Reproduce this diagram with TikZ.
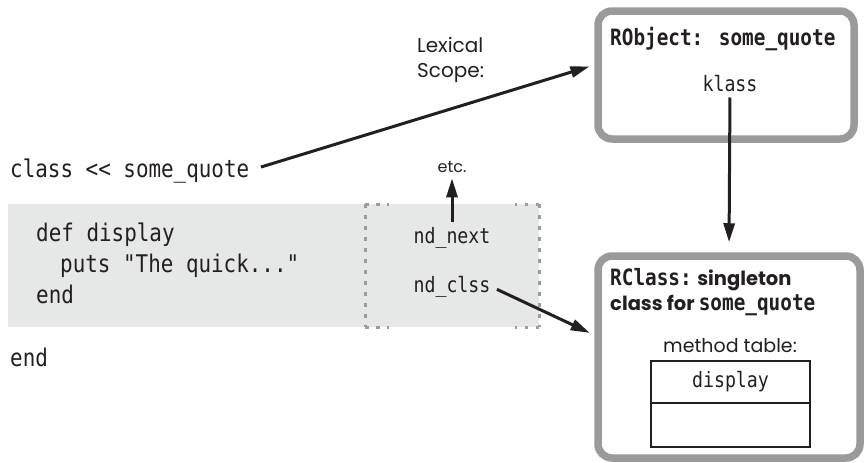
\documentclass[tikz,border=0pt]{standalone}
\usepackage{fontspec}
\setsansfont{Poppins}
\newfontfamily\codefont[FakeStretch=0.86]{DejaVu Sans Mono}
\usetikzlibrary{arrows.meta,positioning}
\definecolor{inkx}{HTML}{231F20}
\definecolor{framegray}{HTML}{999A9C}
\definecolor{codebg}{HTML}{E6E7E7}
\definecolor{dotgray}{HTML}{9C9C9C}
\tikzset{
  ar/.style={-{Triangle[length=19pt,width=11pt]},line width=3pt,inkx},
  code/.style={font={\codefont\fontsize{24.3}{29}\selectfont},text=inkx,inner sep=0pt,anchor=base west},
  lbl/.style={font={\codefont\fontsize{21.2}{25}\selectfont},text=inkx,inner sep=0pt,anchor=base},
  ttl/.style={font={\sffamily\bfseries\fontsize{19.5}{22}\selectfont},text=inkx,inner sep=0pt,anchor=base west},
  sans/.style={font={\sffamily\fontsize{19}{25}\selectfont},text=inkx,inner sep=0pt},
  frame/.style={draw=framegray,line width=7.5pt,rounded corners=14pt,fill=white},
  slot/.style={draw=inkx,line width=2.5pt,outer sep=0pt,minimum width=159pt,inner sep=0pt},
  dotln/.style={dotgray,line width=3pt,dash pattern=on 3.5pt off 7.5pt}
}
\newcommand{\cbf}[1]{{\codefont\fontsize{22.5}{22}\selectfont #1}}
\begin{document}
\begin{tikzpicture}[x=1pt,y=-1pt]
\useasboundingbox (0,0) rectangle (865,463);
\fill[codebg] (8,204) rectangle (539,327);
\draw[dotln] (365,204) -- (365,327);
\draw[dotln] (539,204) -- (539,327);
\foreach \yy in {204,327}{
  \draw[dotln] (365,\yy) -- (389,\yy);
  \draw[dotln] (539,\yy) -- (515,\yy);
}
\node[code] (cls) at (10,177) {class << some\_quote};
\node[code] (def) at (36,241) {def display};
\node[code] (puts) at (60,272) {puts "The quick..."};
\node[code] (defend) at (36,303) {end};
\node[code] (clsend) at (10,366) {end};
\node[sans,font={\sffamily\fontsize{20}{25}\selectfont},anchor=base west] (lex) at (417,52) {Lexical};
\node[sans,font={\sffamily\fontsize{20}{25}\selectfont},anchor=base west] (scope) at (417,77) {Scope:};
\node[lbl] (ndnext) at (452,243) {nd\_next};
\node[lbl] (ndclss) at (452,292) {nd\_clss};
\node[sans,font={\sffamily\fontsize{16}{20}\selectfont},anchor=base] (etc) at (452,172) {etc.};
\node[frame,minimum width=256pt,minimum height=128pt] (robj) at (726,75) {};
\node[ttl] (robjttl) at (610,45) {\cbf{RObject: some\_quote}};
\node[lbl] (klass) at (730,91) {klass};
\node[frame,minimum width=262pt,minimum height=202pt] (rclass) at (729,357) {};
\node[ttl] (rclsttl) at (610,285) {\cbf{RClass:} singleton};
\node[ttl] (rclsttlb) at (610,310) {class for \cbf{some\_quote}};
\node[sans,anchor=base] (mtab) at (730,352) {method table:};
\node[slot,minimum height=42pt,lbl,anchor=center] (slot1) at (730.5,382) {display};
\node[slot,minimum height=44pt,below=0pt of slot1] (slot2) {};
\draw[ar,shorten <=12pt,shorten >=5pt] (cls.east) -- ([yshift=10pt]robj.west);
\draw[ar,shorten <=6pt,shorten >=10pt] (klass.south) -- (rclass.north);
\draw[ar,shorten <=5pt,shorten >=6pt] (ndnext.north) -- (etc.south);
\draw[ar,shorten <=7pt,shorten >=5pt] (ndclss.east) -- ([yshift=22pt]rclass.west);
\end{tikzpicture}
\end{document}
